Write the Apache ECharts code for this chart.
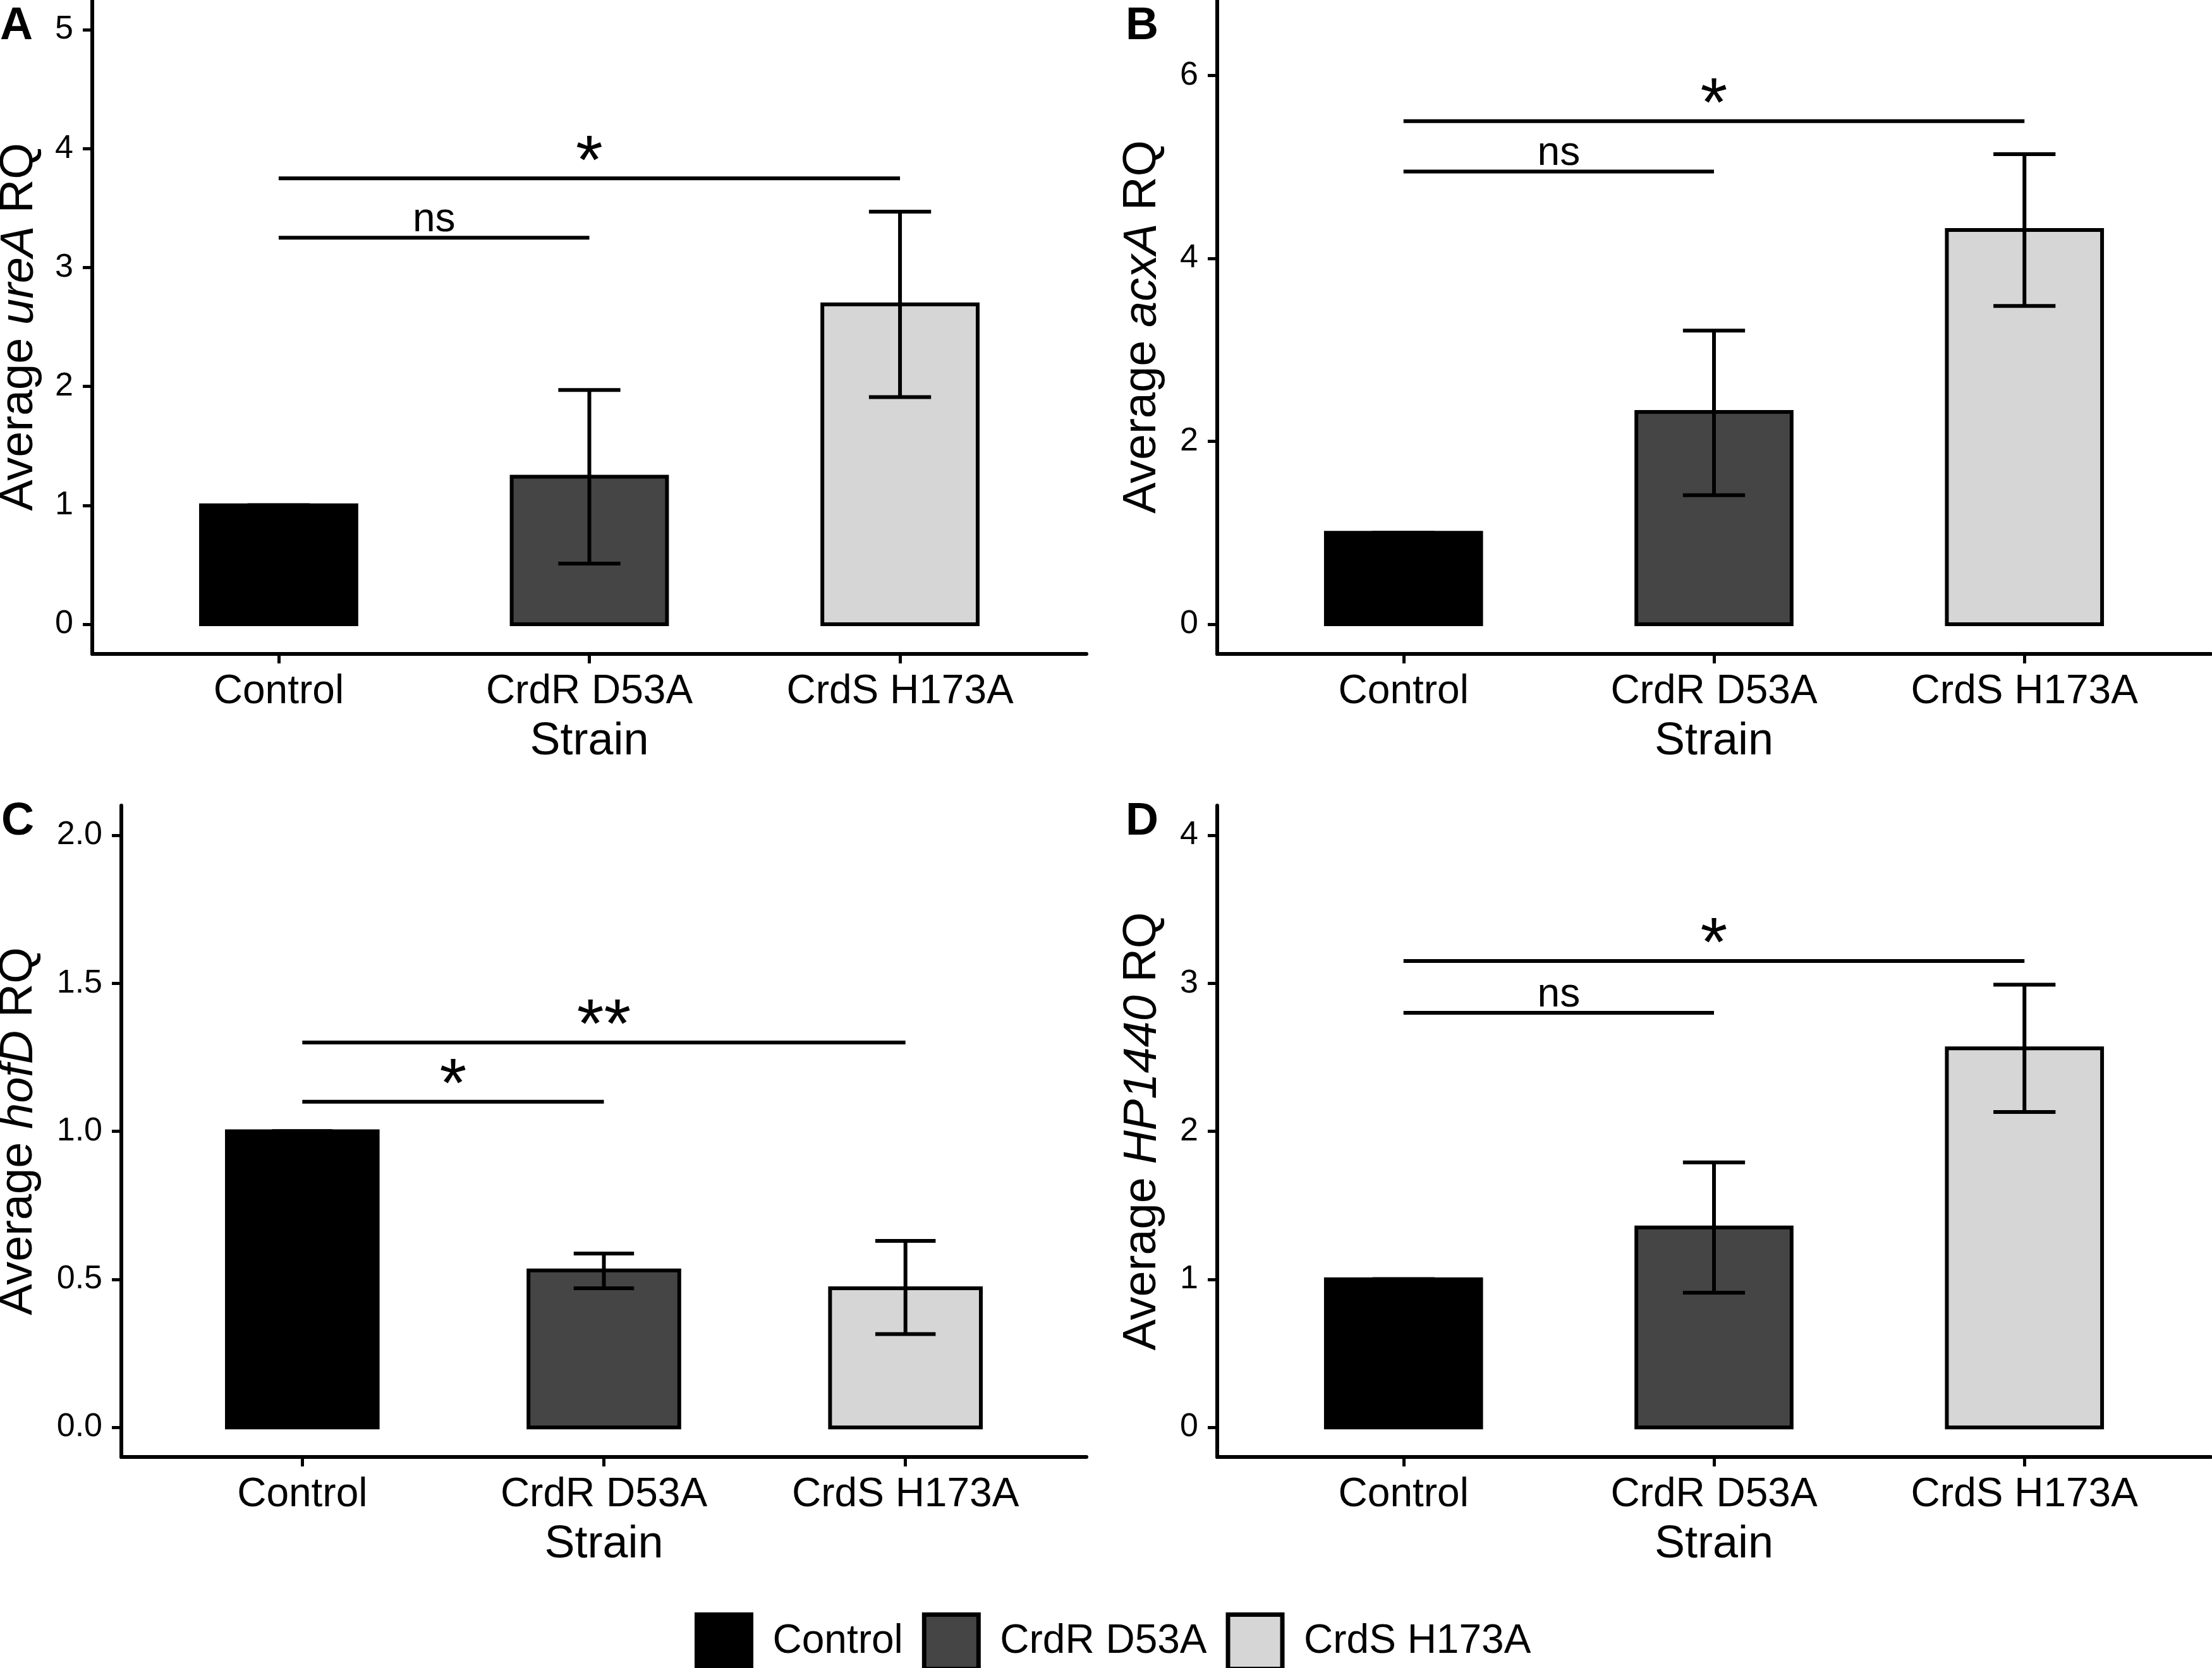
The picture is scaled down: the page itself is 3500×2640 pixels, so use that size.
<!DOCTYPE html>
<html>
<head>
<meta charset="utf-8">
<title>Average RQ by strain</title>
<script src="https://cdn.jsdelivr.net/npm/echarts@6/dist/echarts.min.js"></script>
<style>
    html, body { margin: 0; padding: 0; background: #fff; }
    #main { width: 3500px; height: 2640px; }
</style>
</head>
<body>
<div id="main"></div>
<script>
    var FONT = '"Liberation Sans", Arial, Helvetica, sans-serif';

    // 菌株 / 颜色
    var strains = ['Control', 'CrdR D53A', 'CrdS H173A'];
    var strainColors = ['#000000', '#454545', '#d6d6d6'];

    // A: ureA
    var ureaMean = [1.00, 1.24, 2.69];
    var ureaLow = [1.00, 0.51, 1.91];
    var ureaHigh = [1.00, 1.97, 3.47];
    var ureaSig = [[1, 2, 3.25], [1, 3, 3.75]];
    var ureaSigText = ['ns', '*'];
    var ureaTicks = [0, 1, 2, 3, 4, 5];

    // B: acxA
    var acxaMean = [1.00, 2.32, 4.31];
    var acxaLow = [1.00, 1.41, 3.48];
    var acxaHigh = [1.00, 3.21, 5.14];
    var acxaSig = [[1, 2, 4.95], [1, 3, 5.5]];
    var acxaSigText = ['ns', '*'];
    var acxaTicks = [0, 2, 4, 6];

    // C: hofD
    var hofdMean = [1.00, 0.53, 0.47];
    var hofdLow = [1.00, 0.47, 0.315];
    var hofdHigh = [1.00, 0.587, 0.63];
    var hofdSig = [[1, 2, 1.1], [1, 3, 1.3]];
    var hofdSigText = ['*', '**'];
    var hofdTicks = [0, 0.5, 1.0, 1.5, 2.0];

    // D: HP1440
    var hpMean = [1.00, 1.35, 2.56];
    var hpLow = [1.00, 0.91, 2.13];
    var hpHigh = [1.00, 1.79, 2.99];
    var hpSig = [[1, 2, 2.8], [1, 3, 3.15]];
    var hpSigText = ['ns', '*'];
    var hpTicks = [0, 1, 2, 3, 4];

    var myChart = echarts.init(document.getElementById('main'));

    var grids = [], xAxes = [], yAxes = [], series = [], titles = [];

    function addPanel(letter, gene, box, yMin, yMax, ticks, digits, gap, mean, low, high, sig, sigText) {
        var idx = grids.length;
        grids.push({
            left: box[0], top: box[1], width: box[2], height: box[3],
            containLabel: false, outerBoundsMode: 'none'
        });
        xAxes.push({
            gridIndex: idx, type: 'value', min: 0.4, max: 3.6,
            name: 'Strain', nameLocation: 'middle', nameGap: 103,
            nameTextStyle: { fontSize: 72, color: '#000', fontFamily: FONT },
            axisLine: { onZero: false, lineStyle: { color: '#000', width: 6 } },
            axisTick: { customValues: [1, 2, 3], length: 15, lineStyle: { color: '#000', width: 5 } },
            axisLabel: {
                customValues: [1, 2, 3], margin: 28, fontSize: 64, color: '#000', fontFamily: FONT,
                formatter: function (v) { return strains[Math.round(v) - 1]; }
            },
            splitLine: { show: false }
        });
        yAxes.push({
            gridIndex: idx, type: 'value', min: yMin, max: yMax,
            name: '{n|Average }{i|' + gene + '}{n| RQ}', nameLocation: 'middle', nameGap: gap, nameRotate: 90,
            nameMoveOverlap: false,
            nameTextStyle: {
                rich: {
                    n: { fontSize: 74, color: '#000', fontFamily: FONT },
                    i: { fontSize: 74, color: '#000', fontFamily: FONT, fontStyle: 'italic' }
                }
            },
            axisLine: { onZero: false, lineStyle: { color: '#000', width: 6 } },
            axisTick: { customValues: ticks, length: 15, lineStyle: { color: '#000', width: 5 } },
            axisLabel: {
                customValues: ticks, margin: 30, fontSize: 52, color: '#000', fontFamily: FONT,
                formatter: function (v) { return v.toFixed(digits); }
            },
            splitLine: { show: false }
        });
        titles.push({
            text: letter, left: box[4], top: box[5], padding: 0,
            textStyle: { fontSize: 72, fontWeight: 'bold', color: '#000', fontFamily: FONT }
        });

        // 柱子 + 误差线
        strains.forEach(function (s, i) {
            series.push({
                name: s, type: 'custom', xAxisIndex: idx, yAxisIndex: idx,
                itemStyle: { color: strainColors[i] },
                encode: { x: 0, y: [1, 2, 3] },
                data: [[i + 1, mean[i], low[i], high[i]]],
                renderItem: function (params, api) {
                    var x = api.value(0), m = api.value(1), lo = api.value(2), hi = api.value(3);
                    var p0 = api.coord([x - 0.25, m]);
                    var p1 = api.coord([x + 0.25, 0]);
                    var top = api.coord([x, hi]), bot = api.coord([x, lo]);
                    var cl = api.coord([x - 0.1, hi]), cr = api.coord([x + 0.1, hi]);
                    var ln = { stroke: '#000', lineWidth: 6 };
                    return {
                        type: 'group',
                        children: [
                            {
                                type: 'rect',
                                shape: { x: p0[0], y: p0[1], width: p1[0] - p0[0], height: p1[1] - p0[1] },
                                style: { fill: api.visual('color'), stroke: '#000', lineWidth: 6 }
                            },
                            { type: 'line', shape: { x1: top[0], y1: top[1], x2: bot[0], y2: bot[1] }, style: ln },
                            { type: 'line', shape: { x1: cl[0], y1: top[1], x2: cr[0], y2: top[1] }, style: ln },
                            { type: 'line', shape: { x1: cl[0], y1: bot[1], x2: cr[0], y2: bot[1] }, style: ln }
                        ]
                    };
                }
            });
        });

        // 显著性标记
        series.push({
            name: 'sig' + letter, type: 'custom', xAxisIndex: idx, yAxisIndex: idx,
            encode: { x: [0, 1], y: 2 },
            data: sig,
            renderItem: function (params, api) {
                var a = api.coord([api.value(0), api.value(2)]);
                var b = api.coord([api.value(1), api.value(2)]);
                var label = sigText[params.dataIndex];
                var star = label.indexOf('*') >= 0;
                return {
                    type: 'group',
                    children: [
                        { type: 'line', shape: { x1: a[0], y1: a[1], x2: b[0], y2: b[1] }, style: { stroke: '#000', lineWidth: 6 } },
                        {
                            type: 'text', x: (a[0] + b[0]) / 2, y: a[1] - (star ? 23 : 28),
                            style: {
                                text: label, fontSize: star ? 110 : 64, fontFamily: FONT, fill: '#000',
                                align: 'center', verticalAlign: 'middle'
                            }
                        }
                    ]
                };
            }
        });
    }

    addPanel('A', 'ureA', [146, 0, 1573, 1035, 0, 6], -0.25, 5.25, ureaTicks, 0, 78,
        ureaMean, ureaLow, ureaHigh, ureaSig, ureaSigText);
    addPanel('B', 'acxA', [1926, 0, 1572, 1035, 1781, 6], -0.325, 6.825, acxaTicks, 0, 81,
        acxaMean, acxaLow, acxaHigh, acxaSig, acxaSigText);
    addPanel('C', 'hofD', [192, 1275, 1527, 1031, 2, 1265], -0.1, 2.1, hofdTicks, 1, 125,
        hofdMean, hofdLow, hofdHigh, hofdSig, hofdSigText);
    addPanel('D', 'HP1440', [1926, 1275, 1572, 1031, 1781, 1265], -0.2, 4.2, hpTicks, 0, 81,
        hpMean, hpLow, hpHigh, hpSig, hpSigText);

    var option = {
        backgroundColor: '#fff',
        animation: false,
        title: titles,
        legend: {
            left: 1094, top: 2547,
            itemWidth: 86, itemHeight: 86, itemGap: 30,
            icon: 'rect',
            textStyle: { fontSize: 64, color: '#000', fontFamily: FONT, padding: [0, 0, 0, 29] },
            data: strains.map(function (s, i) {
                return { name: s, itemStyle: { color: strainColors[i], borderColor: '#000', borderWidth: 7 } };
            })
        },
        grid: grids,
        xAxis: xAxes,
        yAxis: yAxes,
        series: series
    };
    myChart.setOption(option);
</script>
</body>
</html>
